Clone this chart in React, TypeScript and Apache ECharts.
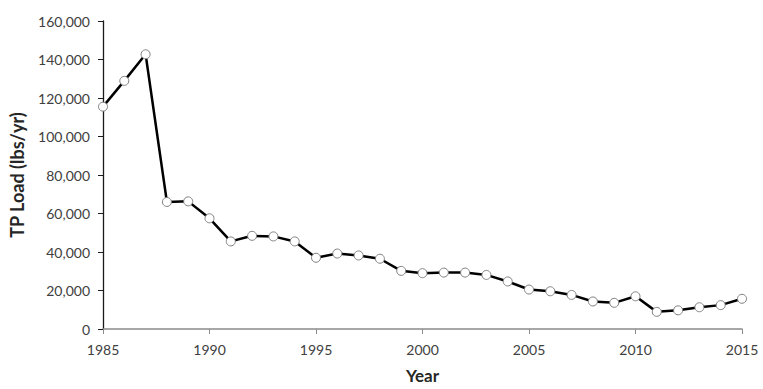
import React, { useEffect, useRef } from "react";
import * as echarts from "echarts";

const years: number[] = [
  1985, 1986, 1987, 1988, 1989, 1990, 1991, 1992, 1993, 1994, 1995, 1996, 1997, 1998, 1999, 2000,
  2001, 2002, 2003, 2004, 2005, 2006, 2007, 2008, 2009, 2010, 2011, 2012, 2013, 2014, 2015,
];
const tpLoad: number[] = [
  115500, 128900, 142700, 66000, 66300, 57500, 45500, 48400, 48100, 45500, 37000, 39200, 38200,
  36500, 30200, 29000, 29300, 29300, 28100, 24700, 20500, 19600, 17700, 14300, 13600, 17000,
  8900, 9700, 11300, 12400, 15700,
];
const xTicks: number[] = [1985, 1990, 1995, 2000, 2005, 2010, 2015];
const yTicks: number[] = [0, 20000, 40000, 60000, 80000, 100000, 120000, 140000, 160000];

const FONT = "Lato, 'Open Sans', sans-serif";

export default function App() {
  const ref = useRef<HTMLDivElement>(null);
  useEffect(() => {
    if (!ref.current) return;
    const chart = echarts.init(ref.current, null, { renderer: "svg" });
    chart.setOption({
      animation: false,
      backgroundColor: "#ffffff",
      grid: { left: 103, right: 21, top: 21, bottom: 55, containLabel: false },
      xAxis: {
        type: "value",
        min: xTicks[0],
        max: xTicks[xTicks.length - 1],
        interval: 5,
        name: "Year",
        nameLocation: "middle",
        nameGap: 38,
        nameTextStyle: { fontFamily: FONT, fontSize: 17, fontWeight: "bold", color: "#262626" },
        axisLine: { show: true, lineStyle: { color: "#8a8a8a", width: 1.5 } },
        axisTick: { show: true, inside: false, length: 5, lineStyle: { color: "#8a8a8a", width: 1 } },
        axisLabel: {
          fontFamily: FONT,
          fontSize: 14,
          color: "#404040",
          margin: 13,
          formatter: (v: number) => String(v),
        },
        splitLine: { show: false },
      },
      yAxis: {
        type: "value",
        min: yTicks[0],
        max: yTicks[yTicks.length - 1],
        interval: 20000,
        name: "TP Load (lbs/yr)",
        nameLocation: "middle",
        nameGap: 77,
        nameRotate: 90,
        nameTextStyle: { fontFamily: FONT, fontSize: 18, fontWeight: "bold", color: "#262626" },
        axisLine: { show: true, lineStyle: { color: "#1a1a1a", width: 1.3 } },
        axisTick: { show: true, inside: false, length: 5, lineStyle: { color: "#1a1a1a", width: 1 } },
        axisLabel: {
          fontFamily: FONT,
          fontSize: 14,
          color: "#404040",
          margin: 13,
          formatter: (v: number) => v.toLocaleString("en-US"),
        },
        splitLine: { show: false },
      },
      series: [
        {
          type: "line",
          data: years.map((y, i) => [y, tpLoad[i]]),
          symbol: "circle",
          symbolSize: 9,
          lineStyle: { color: "#000000", width: 2.5 },
          itemStyle: { color: "#ffffff", borderColor: "#808080", borderWidth: 1 },
          z: 3,
        },
      ],
    });
    return () => chart.dispose();
  }, []);
  return (
    <div
      ref={ref}
      style={{ position: "fixed", left: 0, top: 0, width: 763, height: 389, background: "#fff" }}
    />
  );
}
